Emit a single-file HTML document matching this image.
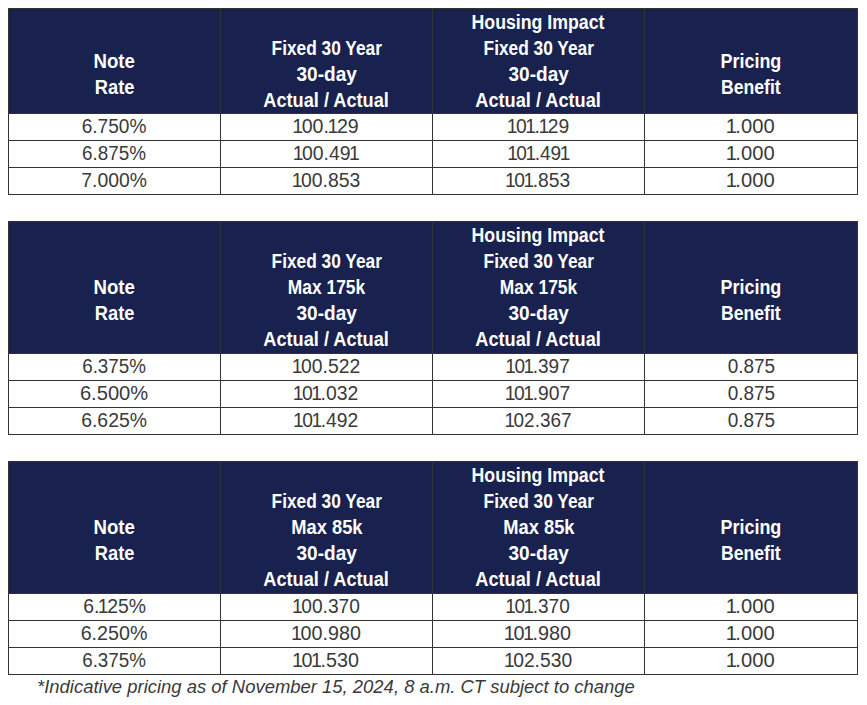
<!DOCTYPE html>
<html><head><meta charset="utf-8"><style>
html,body{margin:0;padding:0;background:#fff;}
body{width:867px;height:705px;position:relative;overflow:hidden;font-family:"Liberation Sans",sans-serif;}
.nv{position:absolute;background:#19224f;}
.hl{position:absolute;height:1px;background:#333333;}
.vl{position:absolute;width:1px;background:#333333;}
.hc{position:absolute;display:flex;flex-direction:column;justify-content:center;align-items:center;color:#fff;font-weight:bold;font-size:20px;line-height:26px;white-space:nowrap;}
.hc span,.dc span{display:inline-block;transform-origin:50% 50%;}
.dc span{position:relative;top:-1px;}
.o{font-style:normal;margin:0 -1.5px;}
.dc{position:absolute;display:flex;justify-content:center;align-items:center;color:#3a3a3a;font-size:19.5px;line-height:20px;white-space:nowrap;}
.fn{position:absolute;left:37px;top:676px;font-style:italic;font-size:19px;color:#3a3a3a;white-space:nowrap;line-height:22px;transform:scaleX(0.971);transform-origin:0 0;}
</style></head><body>
<div class="nv" style="left:8px;top:8px;width:850px;height:105px"></div>
<div class="hl" style="left:8px;top:8px;width:850px"></div>
<div class="hl" style="left:8px;top:113px;width:850px"></div>
<div class="hl" style="left:8px;top:140px;width:850px"></div>
<div class="hl" style="left:8px;top:167px;width:850px"></div>
<div class="hl" style="left:8px;top:194px;width:850px"></div>
<div class="vl" style="left:8px;top:8px;height:187px"></div>
<div class="vl" style="left:220px;top:8px;height:187px"></div>
<div class="vl" style="left:432px;top:8px;height:187px"></div>
<div class="vl" style="left:644px;top:8px;height:187px"></div>
<div class="vl" style="left:857px;top:8px;height:187px"></div>
<div class="hc" style="left:9px;top:9px;width:211px;height:104px"><div>&nbsp;</div><div><span style="transform:translateY(0px) scaleX(0.9326)">Note</span></div><div><span style="transform:translateY(0px) scaleX(0.9143)">Rate</span></div></div>
<div class="hc" style="left:221px;top:9px;width:211px;height:104px"><div>&nbsp;</div><div><span style="transform:translateY(0px) scaleX(0.8651)">Fixed 30 Year</span></div><div><span style="transform:translateY(0px) scaleX(0.9516)">30-day</span></div><div><span style="transform:translateY(0px) scaleX(0.9088)">Actual / Actual</span></div></div>
<div class="hc" style="left:433px;top:9px;width:211px;height:104px"><div><span style="transform:translateY(0px) scaleX(0.8859)">Housing Impact</span></div><div><span style="transform:translateY(0px) scaleX(0.8651)">Fixed 30 Year</span></div><div><span style="transform:translateY(0px) scaleX(0.9516)">30-day</span></div><div><span style="transform:translateY(0px) scaleX(0.9088)">Actual / Actual</span></div></div>
<div class="hc" style="left:645px;top:9px;width:212px;height:104px"><div>&nbsp;</div><div><span style="transform:translateY(0px) scaleX(0.8969)">Pricing</span></div><div><span style="transform:translateY(0px) scaleX(0.8806)">Benefit</span></div></div>
<div class="dc" style="left:9px;top:114px;width:211px;height:26px"><span style="transform:scaleX(0.9797)">6.750%</span></div>
<div class="dc" style="left:221px;top:114px;width:211px;height:26px"><span style="transform:scaleX(1.0063)"><i class="o">1</i>00.<i class="o">1</i>29</span></div>
<div class="dc" style="left:433px;top:114px;width:211px;height:26px"><span style="transform:scaleX(0.9902)"><i class="o">1</i>0<i class="o">1</i>.<i class="o">1</i>29</span></div>
<div class="dc" style="left:645px;top:114px;width:212px;height:26px"><span style="transform:scaleX(1.0356)"><i class="o">1</i>.000</span></div>
<div class="dc" style="left:9px;top:141px;width:211px;height:26px"><span style="transform:scaleX(0.9688)">6.875%</span></div>
<div class="dc" style="left:221px;top:141px;width:211px;height:26px"><span style="transform:scaleX(0.9954)"><i class="o">1</i>00.49<i class="o">1</i></span></div>
<div class="dc" style="left:433px;top:141px;width:211px;height:26px"><span style="transform:scaleX(0.9790)"><i class="o">1</i>0<i class="o">1</i>.49<i class="o">1</i></span></div>
<div class="dc" style="left:645px;top:141px;width:212px;height:26px"><span style="transform:scaleX(1.0356)"><i class="o">1</i>.000</span></div>
<div class="dc" style="left:9px;top:168px;width:211px;height:26px"><span style="transform:scaleX(0.9922)">7.000%</span></div>
<div class="dc" style="left:221px;top:168px;width:211px;height:26px"><span style="transform:scaleX(0.9955)"><i class="o">1</i>00.853</span></div>
<div class="dc" style="left:433px;top:168px;width:211px;height:26px"><span style="transform:scaleX(0.9875)"><i class="o">1</i>0<i class="o">1</i>.853</span></div>
<div class="dc" style="left:645px;top:168px;width:212px;height:26px"><span style="transform:scaleX(1.0356)"><i class="o">1</i>.000</span></div>
<div class="nv" style="left:8px;top:221px;width:850px;height:132px"></div>
<div class="hl" style="left:8px;top:221px;width:850px"></div>
<div class="hl" style="left:8px;top:353px;width:850px"></div>
<div class="hl" style="left:8px;top:380px;width:850px"></div>
<div class="hl" style="left:8px;top:407px;width:850px"></div>
<div class="hl" style="left:8px;top:434px;width:850px"></div>
<div class="vl" style="left:8px;top:221px;height:214px"></div>
<div class="vl" style="left:220px;top:221px;height:214px"></div>
<div class="vl" style="left:432px;top:221px;height:214px"></div>
<div class="vl" style="left:644px;top:221px;height:214px"></div>
<div class="vl" style="left:857px;top:221px;height:214px"></div>
<div class="hc" style="left:9px;top:222px;width:211px;height:130px"><div>&nbsp;</div><div><span style="transform:translateY(0px) scaleX(0.9326)">Note</span></div><div><span style="transform:translateY(0px) scaleX(0.9143)">Rate</span></div></div>
<div class="hc" style="left:221px;top:222px;width:211px;height:130px"><div>&nbsp;</div><div><span style="transform:translateY(0px) scaleX(0.8651)">Fixed 30 Year</span></div><div><span style="transform:translateY(0px) scaleX(0.8693)">Max 175k</span></div><div><span style="transform:translateY(0px) scaleX(0.9516)">30-day</span></div><div><span style="transform:translateY(0px) scaleX(0.9088)">Actual / Actual</span></div></div>
<div class="hc" style="left:433px;top:222px;width:211px;height:130px"><div><span style="transform:translateY(0px) scaleX(0.8859)">Housing Impact</span></div><div><span style="transform:translateY(0px) scaleX(0.8651)">Fixed 30 Year</span></div><div><span style="transform:translateY(0px) scaleX(0.8693)">Max 175k</span></div><div><span style="transform:translateY(0px) scaleX(0.9516)">30-day</span></div><div><span style="transform:translateY(0px) scaleX(0.9088)">Actual / Actual</span></div></div>
<div class="hc" style="left:645px;top:222px;width:212px;height:130px"><div>&nbsp;</div><div><span style="transform:translateY(0px) scaleX(0.8969)">Pricing</span></div><div><span style="transform:translateY(0px) scaleX(0.8806)">Benefit</span></div></div>
<div class="dc" style="left:9px;top:354px;width:211px;height:26px"><span style="transform:scaleX(0.9641)">6.375%</span></div>
<div class="dc" style="left:221px;top:354px;width:211px;height:26px"><span style="transform:scaleX(0.9910)"><i class="o">1</i>00.522</span></div>
<div class="dc" style="left:433px;top:354px;width:211px;height:26px"><span style="transform:scaleX(0.9750)"><i class="o">1</i>0<i class="o">1</i>.397</span></div>
<div class="dc" style="left:645px;top:354px;width:212px;height:26px"><span style="transform:scaleX(0.9723)">0.875</span></div>
<div class="dc" style="left:9px;top:381px;width:211px;height:26px"><span style="transform:scaleX(1.0328)">6.500%</span></div>
<div class="dc" style="left:221px;top:381px;width:211px;height:26px"><span style="transform:scaleX(0.9938)"><i class="o">1</i>0<i class="o">1</i>.032</span></div>
<div class="dc" style="left:433px;top:381px;width:211px;height:26px"><span style="transform:scaleX(0.9906)"><i class="o">1</i>0<i class="o">1</i>.907</span></div>
<div class="dc" style="left:645px;top:381px;width:212px;height:26px"><span style="transform:scaleX(0.9723)">0.875</span></div>
<div class="dc" style="left:9px;top:408px;width:211px;height:26px"><span style="transform:scaleX(0.9953)">6.625%</span></div>
<div class="dc" style="left:221px;top:408px;width:211px;height:26px"><span style="transform:scaleX(0.9875)"><i class="o">1</i>0<i class="o">1</i>.492</span></div>
<div class="dc" style="left:433px;top:408px;width:211px;height:26px"><span style="transform:scaleX(0.9731)"><i class="o">1</i>02.367</span></div>
<div class="dc" style="left:645px;top:408px;width:212px;height:26px"><span style="transform:scaleX(0.9723)">0.875</span></div>
<div class="nv" style="left:8px;top:461px;width:850px;height:132px"></div>
<div class="hl" style="left:8px;top:461px;width:850px"></div>
<div class="hl" style="left:8px;top:593px;width:850px"></div>
<div class="hl" style="left:8px;top:620px;width:850px"></div>
<div class="hl" style="left:8px;top:647px;width:850px"></div>
<div class="hl" style="left:8px;top:674px;width:850px"></div>
<div class="vl" style="left:8px;top:461px;height:214px"></div>
<div class="vl" style="left:220px;top:461px;height:214px"></div>
<div class="vl" style="left:432px;top:461px;height:214px"></div>
<div class="vl" style="left:644px;top:461px;height:214px"></div>
<div class="vl" style="left:857px;top:461px;height:214px"></div>
<div class="hc" style="left:9px;top:462px;width:211px;height:130px"><div>&nbsp;</div><div><span style="transform:translateY(0px) scaleX(0.9326)">Note</span></div><div><span style="transform:translateY(0px) scaleX(0.9143)">Rate</span></div></div>
<div class="hc" style="left:221px;top:462px;width:211px;height:130px"><div>&nbsp;</div><div><span style="transform:translateY(0px) scaleX(0.8651)">Fixed 30 Year</span></div><div><span style="transform:translateY(0px) scaleX(0.9156)">Max 85k</span></div><div><span style="transform:translateY(0px) scaleX(0.9516)">30-day</span></div><div><span style="transform:translateY(0px) scaleX(0.9088)">Actual / Actual</span></div></div>
<div class="hc" style="left:433px;top:462px;width:211px;height:130px"><div><span style="transform:translateY(0px) scaleX(0.8859)">Housing Impact</span></div><div><span style="transform:translateY(0px) scaleX(0.8651)">Fixed 30 Year</span></div><div><span style="transform:translateY(0px) scaleX(0.9156)">Max 85k</span></div><div><span style="transform:translateY(0px) scaleX(0.9516)">30-day</span></div><div><span style="transform:translateY(0px) scaleX(0.9088)">Actual / Actual</span></div></div>
<div class="hc" style="left:645px;top:462px;width:212px;height:130px"><div>&nbsp;</div><div><span style="transform:translateY(0px) scaleX(0.8969)">Pricing</span></div><div><span style="transform:translateY(0px) scaleX(0.8806)">Benefit</span></div></div>
<div class="dc" style="left:9px;top:594px;width:211px;height:26px"><span style="transform:scaleX(0.9951)">6.<i class="o">1</i>25%</span></div>
<div class="dc" style="left:221px;top:594px;width:211px;height:26px"><span style="transform:scaleX(0.9836)"><i class="o">1</i>00.370</span></div>
<div class="dc" style="left:433px;top:594px;width:211px;height:26px"><span style="transform:scaleX(0.9750)"><i class="o">1</i>0<i class="o">1</i>.370</span></div>
<div class="dc" style="left:645px;top:594px;width:212px;height:26px"><span style="transform:scaleX(1.0356)"><i class="o">1</i>.000</span></div>
<div class="dc" style="left:9px;top:621px;width:211px;height:26px"><span style="transform:scaleX(1.0109)">6.250%</span></div>
<div class="dc" style="left:221px;top:621px;width:211px;height:26px"><span style="transform:scaleX(1.0119)"><i class="o">1</i>00.980</span></div>
<div class="dc" style="left:433px;top:621px;width:211px;height:26px"><span style="transform:scaleX(1.0188)"><i class="o">1</i>0<i class="o">1</i>.980</span></div>
<div class="dc" style="left:645px;top:621px;width:212px;height:26px"><span style="transform:scaleX(1.0356)"><i class="o">1</i>.000</span></div>
<div class="dc" style="left:9px;top:648px;width:211px;height:26px"><span style="transform:scaleX(0.9641)">6.375%</span></div>
<div class="dc" style="left:221px;top:648px;width:211px;height:26px"><span style="transform:scaleX(1.0125)"><i class="o">1</i>0<i class="o">1</i>.530</span></div>
<div class="dc" style="left:433px;top:648px;width:211px;height:26px"><span style="transform:scaleX(0.9881)"><i class="o">1</i>02.530</span></div>
<div class="dc" style="left:645px;top:648px;width:212px;height:26px"><span style="transform:scaleX(1.0356)"><i class="o">1</i>.000</span></div>
<div class="fn">*Indicative pricing as of November 15, 2024, 8 a.m. CT subject to change</div>
</body></html>
